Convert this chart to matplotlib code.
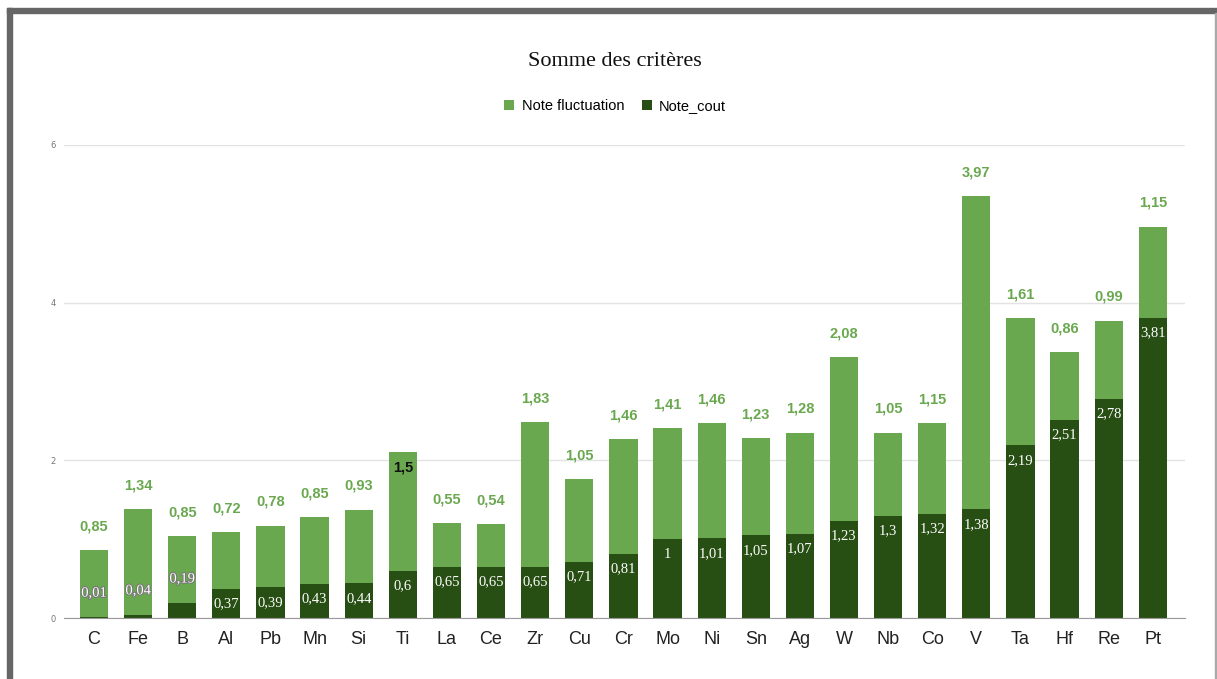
import matplotlib
matplotlib.use("Agg")
import matplotlib.pyplot as plt
import matplotlib.patheffects as pe
from matplotlib.patches import Rectangle
import numpy as np

metaux = ["C", "Fe", "B", "Al", "Pb", "Mn", "Si", "Ti", "La", "Ce", "Zr", "Cu", "Cr",
          "Mo", "Ni", "Sn", "Ag", "W", "Nb", "Co", "V", "Ta", "Hf", "Re", "Pt"]
note_cout = [0.01, 0.04, 0.19, 0.37, 0.39, 0.43, 0.44, 0.6, 0.65, 0.65, 0.65, 0.71, 0.81,
             1, 1.01, 1.05, 1.07, 1.23, 1.3, 1.32, 1.38, 2.19, 2.51, 2.78, 3.81]
note_fluct = [0.85, 1.34, 0.85, 0.72, 0.78, 0.85, 0.93, 1.5, 0.55, 0.54, 1.83, 1.05, 1.46,
              1.41, 1.46, 1.23, 1.28, 2.08, 1.05, 1.15, 3.97, 1.61, 0.86, 0.99, 1.15]

VERT_CLAIR = "#6aa84f"
VERT_FONCE = "#274e13"

def fmt(v):
    return f"{v:g}".replace(".", ",")

fig = plt.figure(figsize=(12.17, 6.79), dpi=100)
fig.patch.set_facecolor("white")

# cadre gris autour de la page
fig.patches.append(Rectangle((7 / 1217, 0), 5 / 1217, 1 - 8 / 679, transform=fig.transFigure,
                             color="#666666", zorder=10))
fig.patches.append(Rectangle((7 / 1217, 1 - 13 / 679), 1 - 7 / 1217, 5 / 679,
                             transform=fig.transFigure, color="#666666", zorder=10))
fig.patches.append(Rectangle((1215 / 1217, 0), 2 / 1217, 1 - 13 / 679,
                             transform=fig.transFigure, color="#aaaaaa", zorder=10))

ax = fig.add_axes([64 / 1217, 1 - 618 / 679, (1185 - 64) / 1217, (618 - 145) / 679])
x = np.arange(len(metaux))
largeur = 0.64

b1 = ax.bar(x, note_fluct, largeur, bottom=note_cout, color=VERT_CLAIR,
            label="Note fluctuation", zorder=3)
b2 = ax.bar(x, note_cout, largeur, color=VERT_FONCE, label="Note_cout", zorder=3)

ax.set_xlim(-0.68, 24.73)
ax.set_ylim(0, 6)
ax.set_yticks([0, 2, 4, 6])
ax.set_yticklabels(["0", "2", "4", "6"], fontsize=6, color="#777777")
ax.set_xticks(x)
ax.set_xticklabels(metaux, fontsize=13, family="Liberation Sans", color="#222222")
ax.tick_params(axis="both", length=0)
ax.tick_params(axis="x", pad=9)
ax.tick_params(axis="y", pad=6)
ax.grid(axis="y", color="#e3e3e3", linewidth=1, zorder=0)
for s in ["top", "right", "left"]:
    ax.spines[s].set_visible(False)
ax.spines["bottom"].set_color("#999999")
ax.spines["bottom"].set_zorder(4)

# étiquettes des valeurs
for i in range(len(metaux)):
    c = note_cout[i]
    f = note_fluct[i]
    if c < 0.3:
        ax.annotate(fmt(c), (x[i], c), xytext=(0, 24), textcoords="offset pixels",
                    ha="center", va="center", fontsize=10.5, family="Liberation Serif",
                    color="white", zorder=5,
                    path_effects=[pe.withStroke(linewidth=1.5, foreground="#777777")])
    else:
        ax.annotate(fmt(c), (x[i], c), xytext=(0, -15), textcoords="offset pixels",
                    ha="center", va="center", fontsize=10.5, family="Liberation Serif",
                    color="white", zorder=5)
    haut = c + f
    if metaux[i] == "Ti":
        ax.annotate(fmt(f), (x[i], haut), xytext=(0, -15), textcoords="offset pixels",
                    ha="center", va="center", fontsize=10.5, family="Liberation Sans",
                    fontweight="bold", color="#111111", zorder=5)
    else:
        ax.annotate(fmt(f), (x[i], haut), xytext=(0, 24), textcoords="offset pixels",
                    ha="center", va="center", fontsize=10.5, family="Liberation Sans",
                    fontweight="bold", color=VERT_CLAIR, zorder=5)

fig.text(615 / 1217, 1 - 62 / 679, "Somme des critères", ha="center", va="center",
         fontsize=16, family="Liberation Serif", color="#111111")

fig.legend(handles=[b1, b2], loc="center", bbox_to_anchor=(615 / 1217, 1 - 106 / 679),
           ncol=2, frameon=False, handlelength=0.7, handleheight=0.7,
           handletextpad=0.5, columnspacing=1.2, prop={"family": "Liberation Sans", "size": 10.5})

fig.savefig("out.png", dpi=100)
